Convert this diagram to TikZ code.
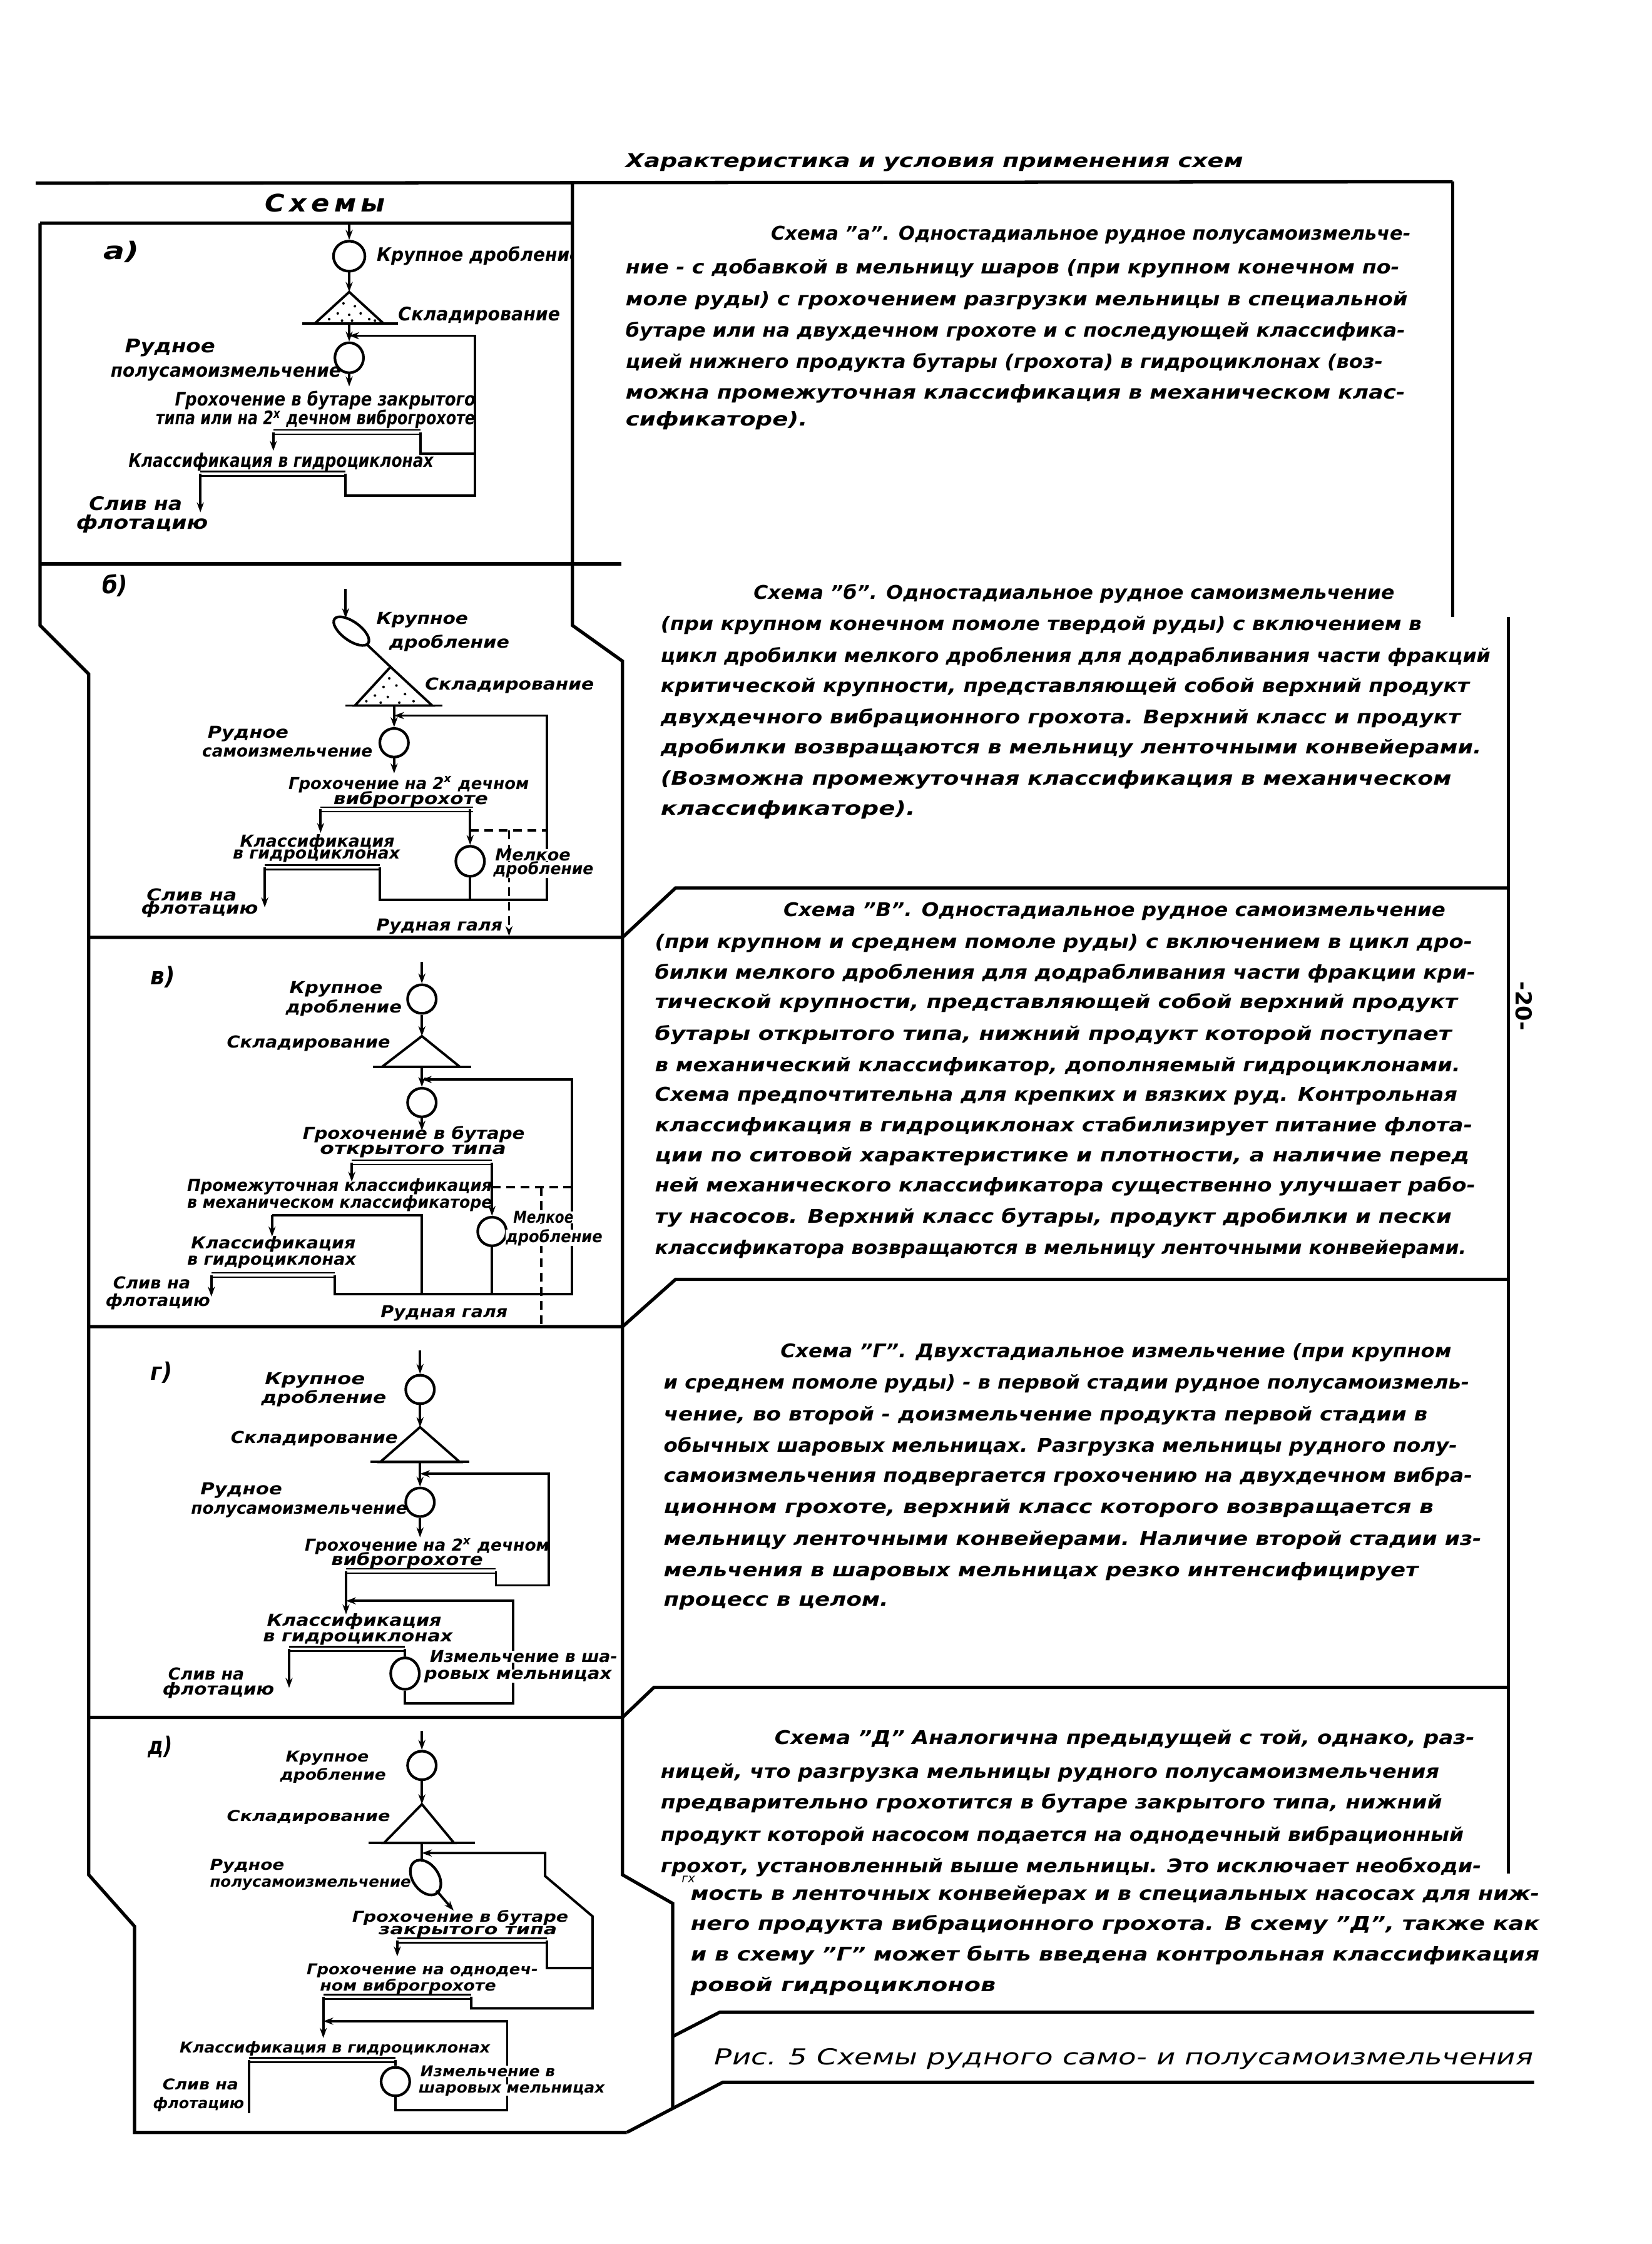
\documentclass[tikz,border=0pt]{standalone}
\usepackage{fontspec}
\setmainfont{DejaVu Sans}[ItalicFont={DejaVu Sans Oblique},BoldFont={DejaVu Sans Bold},BoldItalicFont={DejaVu Sans Bold Oblique}]
\usetikzlibrary{arrows.meta,shapes.geometric}
\newlength\ovu
\setlength\ovu{0.022868cm}
\newcommand\mkfl[2]{\resizebox{#1\ovu}{\height}{#2}}
\tikzset{
  lbl/.style={anchor=west,inner sep=0pt,font=\fontsize{7.5}{8}\selectfont\bfseries\itshape},
  lbla/.style={anchor=west,inner sep=0pt,font=\fontsize{8.5}{9}\selectfont\bfseries\itshape},
  lbls/.style={anchor=west,inner sep=0pt,font=\fontsize{6.8}{7}\selectfont\bfseries\itshape},
  regl/.style={anchor=west,inner sep=0pt,font=\fontsize{11}{12}\selectfont\bfseries\itshape},
  para/.style={anchor=west,inner sep=0pt,font=\fontsize{8.6}{9}\selectfont\bfseries\itshape},
  capt/.style={anchor=west,inner sep=0pt,font=\fontsize{10}{11}\selectfont\itshape},
  ln/.style={line width=1.1pt},
  arr/.style={line width=1.1pt,-{Stealth[length=4.5pt,width=3.2pt]}},
  dashln/.style={line width=1.1pt,dash pattern=on 4pt off 2.5pt},
  bar/.style={line width=0.7pt,double,double distance=1.3pt},
  frame/.style={line width=1.5pt},
  mill/.style={draw,ellipse,line width=1.2pt,inner sep=0pt,minimum width=20\ovu,minimum height=21\ovu},
  wt/.style={fill=white},
}
\newcommand\mkpl[5]{\node[para] (#1) at (#2,#3) {\mkfl{#4}{#5}};}
\newcommand\mklb[6][lbl]{\node[#1] (#2) at (#3,#4) {\mkfl{#5}{#6}};}
\begin{document}
\begin{tikzpicture}[x=0.022868cm,y=-0.022868cm]
\useasboundingbox (0,0) rectangle (1154,1568);

% ---------------- frame ----------------
\draw[frame] (25,128) -- (1015,127);
\draw[frame] (28,156) -- (400,156);
\draw[frame] (28,156) -- (28,437) -- (62,471) -- (62,1310) -- (94,1346) -- (94,1490) -- (438,1490);
\draw[frame] (400,127) -- (400,437) -- (435,462) -- (435,1310) -- (470,1330) -- (470,1473);
\draw[frame] (1072,1455) -- (505,1455) -- (438,1490);
\draw[frame] (1072,1406) -- (503,1406) -- (470,1423);
\draw[frame] (28,394) -- (434,394);
\draw[frame] (62,655) -- (435,655) -- (472,620.5) -- (1054,620.5);
\draw[frame] (62,927) -- (435,927) -- (472,894) -- (1054,894);
\draw[frame] (62,1200) -- (435,1200) -- (457,1179) -- (1054,1179);
\draw[frame] (1015,127) -- (1015,431);
\draw[frame] (1054,431) -- (1054,1309);

\node[regl] (hsx) at (185,141.7) {\mkfl{84}{С\,х\,е\,м\,ы}};
\mkpl{hdr}{436.9}{113.6}{431.4}{Характеристика и условия применения схем}

% ---------------- a) ----------------
\node[regl] (alab) at (72,176) {\mkfl{25}{а)}};
\begin{scope}
\clip (28,156) rectangle (399,394);
\mklb[lbla]{at1}{263}{179}{143}{Крупное дробление}
\end{scope}
\node[mill,minimum width=22\ovu] (am1) at (244,179) {};
\draw[arr] (244,157) -- (am1.north);
\draw[arr] (am1.south) -- (244,204);
\draw[ln] (244,204) -- (220,226) -- (268,226) -- cycle;
\draw[ln] (211,226) -- (278,226);
\foreach \p in {(240,212),(248,214),(236,219),(244,220),(252,219),(230,223),(258,223),(246,224),(239,224),(262,224)} \fill \p circle (0.9);
\node[mill] (am2) at (244,250) {};
\draw[arr] (244,226) -- (am2.north);
\draw[arr] (am2.south) -- (244,270);
\draw[bar] (191,302) -- (294,302);
\draw[arr] (191,302) -- (191,315);
\draw[ln] (294,302) -- (294,317) -- (332,317);
\draw[bar] (140,331) -- (241.5,331);
\draw[arr] (140,331) -- (140,358);
\draw[arr] (241.5,331) -- (241.5,346.4) -- (332,346.4) -- (332,234.6) -- (244,234.6);
\mklb[lbla]{at2}{278}{220.4}{113}{Складирование}
\mklb[lbla]{at3}{87}{243}{63}{Рудное}
\mklb[lbla]{at4}{77}{261}{161}{полусамоизмельчение}
\mklb[lbla]{at5}{122}{280}{210}{Грохочение в бутаре закрытого}
\mklb[lbla]{at6}{108.6}{293}{223}{типа или на 2\textsuperscript{х} дечном виброгрохоте}
\mklb[lbla]{at7}{89.6}{323}{213}{Классификация в гидроциклонах}
\mklb[lbla]{at8}{62}{352}{65}{Слив на}
\mklb[lbla]{at9}{53}{366}{92}{флотацию}

% ---------------- б) ----------------
\node[regl] (blab) at (71,409) {\mkfl{18}{б)}};
\node[mill,minimum width=29\ovu,minimum height=13\ovu,rotate=-36] (bm1) at (245.5,441) {};
\draw[arr] (241.5,411.6) -- (241.5,432);
\draw[ln] (256,450) -- (272.9,466);
\draw[ln] (272.9,466) -- (248,493) -- (302,493) -- cycle;
\draw[ln] (241.5,493) -- (309,493);
\foreach \p in {(272,474),(268,480),(277,479),(262,486),(271,487),(283,485),(256,490),(266,491),(289,490),(279,491)} \fill \p circle (0.9);
\node[mill,minimum height=20\ovu] (bm2) at (275.4,519) {};
\draw[arr] (275.4,493) -- (bm2.north);
\draw[arr] (bm2.south) -- (275.4,540.4);
\draw[bar] (224,565.5) -- (330.6,565.5);
\draw[arr] (224,565.5) -- (224,582);
\node[mill] (bm3) at (328.5,601.8) {};
\draw[arr] (328.5,565.5) -- (bm3.north);
\draw[dashln] (328.5,580.2) -- (382,580.2);
\draw[dashln,-{Stealth[length=4.5pt,width=3.2pt]}] (355.7,580.2) -- (355.7,654);
\draw[ln] (bm3.south) -- (328.5,628.6);
\draw[bar] (185,606) -- (265.3,606);
\draw[arr] (185,606) -- (185,634);
\draw[arr] (265.3,606) -- (265.3,628.6) -- (382,628.6) -- (382,500) -- (275.4,500);
\mklb{bt1}{262.8}{433.2}{64}{Крупное}
\mklb{bt2}{271.6}{449.6}{84}{дробление}
\mklb{bt3}{296.7}{479}{118}{Складирование}
\mklb{bt4}{144.8}{512.7}{56.5}{Рудное}
\mklb{bt5}{141}{525.7}{119}{самоизмельчение}
\mklb{bt6}{201.3}{548.2}{168}{Грохочение на 2\textsuperscript{х} дечном}
\mklb{bt7}{232.7}{558.6}{108}{виброгрохоте}
\mklb[lbl,wt]{bt8}{345.7}{597.5}{52.7}{Мелкое}
\mklb[lbl,wt]{bt9}{344.4}{607.9}{70}{дробление}
\mklb{bt10}{167.4}{588.8}{108}{Классификация}
\mklb{bt11}{162.4}{598.3}{116.7}{в гидроциклонах}
\mklb{bt12}{102.2}{625.1}{63}{Слив на}
\mklb{bt13}{98.4}{635.5}{81.6}{флотацию}
\mklb{bt14}{262.8}{647.6}{88}{Рудная галя}

% ---------------- в) ----------------
\node[regl] (vlab) at (105,682.9) {\mkfl{17}{в)}};
\node[mill,minimum height=20\ovu] (vm1) at (294.8,698.1) {};
\draw[arr] (294.8,672.2) -- (vm1.north);
\draw[arr] (vm1.south) -- (294.8,724);
\draw[ln] (294.8,724) -- (267,745.4) -- (321.3,745.4) -- cycle;
\draw[ln] (260.4,745.4) -- (329.3,745.4);
\node[mill,minimum height=20\ovu] (vm2) at (294.8,770.4) {};
\draw[arr] (294.8,745.4) -- (vm2.north);
\draw[arr] (vm2.south) -- (294.8,790);
\draw[bar] (245.8,812.3) -- (343.8,812.3);
\draw[arr] (245.8,812.3) -- (245.8,825.7);
\node[mill,minimum height=20\ovu] (vm3) at (343.8,860.5) {};
\draw[arr] (343.8,812.3) -- (vm3.north);
\draw[dashln] (343.8,829.3) -- (399.5,829.3);
\draw[dashln] (378.3,829.3) -- (378.3,927);
\draw[ln] (190.1,849) -- (294.8,849) -- (294.8,904.2);
\draw[arr] (190.1,849) -- (190.1,864);
\draw[ln] (vm3.south) -- (343.8,904.2);
\draw[bar] (147.7,890.9) -- (233.9,890.9);
\draw[arr] (147.7,890.9) -- (147.7,906);
\draw[arr] (233.9,890.9) -- (233.9,904.2) -- (399.5,904.2) -- (399.5,754.3) -- (294.8,754.3);
\mklb{vt1}{202}{691}{65}{Крупное}
\mklb{vt2}{199.4}{704.3}{81}{дробление}
\mklb{vt3}{158.3}{729.3}{114}{Складирование}
\mklb{vt4}{211.3}{792.7}{155}{Грохочение в бутаре}
\mklb{vt5}{223.3}{804.3}{130}{открытого типа}
\mklb{vt6}{130.5}{829.3}{213}{Промежуточная классификация}
\mklb{vt7}{130.5}{840.9}{213}{в механическом классификаторе}
\mklb[lbl,wt]{vt8}{358.4}{850.7}{42}{Мелкое}
\mklb[lbl,wt]{vt9}{353.1}{865}{67.6}{дробление}
\mklb{vt10}{133.2}{869.4}{115}{Классификация}
\mklb{vt11}{130.5}{881.9}{118}{в гидроциклонах}
\mklb{vt12}{78.8}{896.2}{54}{Слив на}
\mklb{vt13}{73.5}{909.6}{73}{флотацию}
\mklb{vt14}{265.7}{917.6}{88.7}{Рудная галя}

% ---------------- г) ----------------
\node[regl] (glab) at (105,959) {\mkfl{15}{г)}};
\node[mill,minimum height=20\ovu] (gm1) at (293.5,970.9) {};
\draw[arr] (293.5,943.7) -- (gm1.north);
\draw[arr] (gm1.south) -- (293.5,997.2);
\draw[ln] (293.5,997.2) -- (265.7,1021.6) -- (321.3,1021.6) -- cycle;
\draw[ln] (259,1021.6) -- (328,1021.6);
\node[mill,minimum height=20\ovu] (gm2) at (293.5,1049.7) {};
\draw[arr] (293.5,1021.6) -- (gm2.north);
\draw[arr] (gm2.south) -- (293.5,1074.2);
\draw[bar] (241.8,1097.8) -- (346.5,1097.8);
\draw[arr] (346.5,1097.8) -- (346.5,1107.8) -- (383.6,1107.8) -- (383.6,1029.8) -- (293.5,1029.8);
\draw[arr] (241.8,1097.8) -- (241.8,1128);
\draw[bar] (202,1152.2) -- (282.9,1152.2);
\draw[arr] (202,1152.2) -- (202,1179.4);
\node[mill,minimum height=22\ovu] (gm3) at (283,1169.4) {};
\draw[ln] (283,1152.2) -- (gm3.north);
\draw[arr] (gm3.south) -- (283,1190.3) -- (358.4,1190.3) -- (358.4,1118.6) -- (241.8,1118.6);
\mklb{gt1}{184.8}{964.5}{70}{Крупное}
\mklb{gt2}{182.2}{977.2}{87.4}{дробление}
\mklb{gt3}{161}{1005.3}{116.6}{Складирование}
\mklb{gt4}{139.8}{1041.6}{57}{Рудное}
\mklb{gt5}{133.2}{1056.1}{151}{полусамоизмельчение}
\mklb{gt6}{212.7}{1080.6}{171}{Грохочение на 2\textsuperscript{х} дечном}
\mklb{gt7}{231.2}{1090.5}{106}{виброгрохоте}
\mklb{gt8}{186.2}{1133.1}{122}{Классификация}
\mklb{gt9}{183.5}{1144.9}{132.5}{в гидроциклонах}
\mklb{gt10}{117.3}{1169.4}{53}{Слив на}
\mklb{gt11}{113.3}{1181.2}{78}{флотацию}
\mklb[lbl,wt]{gt12}{300.1}{1157.6}{131}{Измельчение в ша-}
\mklb[lbl,wt]{gt13}{296.1}{1171.2}{131}{ровых мельницах}

% ---------------- д) ----------------
\node[regl] (dlab) at (103,1220.5) {\mkfl{17}{д)}};
\node[mill,minimum height=20\ovu] (dm1) at (294.8,1233.6) {};
\draw[arr] (294.8,1209.5) -- (dm1.north);
\draw[arr] (dm1.south) -- (294.8,1260.7);
\draw[ln] (294.8,1260.7) -- (268.3,1287.8) -- (317.3,1287.8) -- cycle;
\draw[ln] (257.7,1287.8) -- (331.9,1287.8);
\node[mill,minimum width=27\ovu,minimum height=18\ovu,rotate=-55] (dm2) at (297.4,1311.9) {};
\draw[ln] (294.8,1287.8) -- (294.8,1300);
\draw[arr] (305,1321) -- (317,1335);
\draw[bar] (277.6,1356) -- (382.3,1356);
\draw[arr] (277.6,1356) -- (277.6,1367);
\draw[ln] (382.3,1356) -- (382.3,1375) -- (414,1375);
\draw[bar] (225.9,1395.2) -- (329.3,1395.2);
\draw[arr] (329.3,1395.2) -- (329.3,1403.3) -- (414,1403.3) -- (414,1339) -- (380.9,1310.9) -- (380.9,1294.8) -- (294.8,1294.8);
\draw[arr] (225.9,1395.2) -- (225.9,1424);
\draw[bar] (174.2,1439.4) -- (276.3,1439.4);
\draw[ln] (174.2,1439.4) -- (174.2,1476.5);
\node[mill,minimum height=20\ovu] (dm3) at (276.3,1454.5) {};
\draw[ln] (276.3,1439.4) -- (dm3.north);
\draw[arr] (dm3.south) -- (276.3,1474.5) -- (354.4,1474.5) -- (354.4,1412.3) -- (225.9,1412.3);
\mklb[lbls]{dt1}{199.4}{1228.6}{58}{Крупное}
\mklb[lbls]{dt2}{195.4}{1240.6}{74}{дробление}
\mklb[lbls]{dt3}{158.3}{1269.7}{114}{Складирование}
\mklb[lbls]{dt4}{146.4}{1303.9}{52}{Рудное}
\mklb[lbls]{dt5}{146.4}{1316.9}{140.5}{полусамоизмельчение}
\mklb[lbls]{dt6}{245.8}{1340}{151}{Грохочение в бутаре}
\mklb[lbls]{dt7}{264.3}{1350}{124.6}{закрытого типа}
\mklb[lbls]{dt8}{214}{1377.1}{161.6}{Грохочение на однодеч-}
\mklb[lbls]{dt9}{223.3}{1388.2}{123}{ном виброгрохоте}
\mklb[lbls]{dt10}{125.2}{1431.4}{217}{Классификация в гидроциклонах}
\mklb[lbls]{dt11}{113.3}{1456.5}{53}{Слив на}
\mklb[lbls]{dt12}{106.7}{1470.5}{63.6}{флотацию}
\mklb[lbls,wt]{dt13}{293.5}{1447.4}{94}{Измельчение в}
\mklb[lbls,wt]{dt14}{292.2}{1460.5}{130}{шаровых мельницах}

% ---------------- texts ----------------
\mkpl{pa1}{538.4}{164.3}{447}{Схема "а". Одностадиальное рудное полусамоизмельче-}
\mkpl{pa2}{436.9}{187.5}{540.7}{ние - с добавкой в мельницу шаров (при крупном конечном по-}
\mkpl{pa3}{436.9}{210}{546.5}{моле руды) с грохочением разгрузки мельницы в специальной}
\mkpl{pa4}{436.9}{231.7}{544.6}{бутаре или на двухдечном грохоте и с последующей классифика-}
\mkpl{pa5}{436.9}{253.5}{529}{цией нижнего продукта бутары (грохота) в гидроциклонах (воз-}
\mkpl{pa6}{436.9}{275.2}{544.6}{можна промежуточная классификация в механическом клас-}
\mkpl{pa7}{436.9}{294}{127}{сификаторе).}

\mkpl{pb1}{526.3}{415}{447.8}{Схема "б". Одностадиальное рудное самоизмельчение}
\mkpl{pb2}{461.4}{437}{531.6}{(при крупном конечном помоле твердой руды) с включением в}
\mkpl{pb3}{461.4}{459}{579.7}{цикл дробилки мелкого дробления для додрабливания части фракций}
\mkpl{pb4}{461.4}{480}{565}{критической крупности, представляющей собой верхний продукт}
\mkpl{pb5}{461.4}{502}{558.8}{двухдечного вибрационного грохота. Верхний класс и продукт}
\mkpl{pb6}{461.4}{523}{573.4}{дробилки возвращаются в мельницу ленточными конвейерами.}
\mkpl{pb7}{461.4}{545}{552.5}{(Возможна промежуточная классификация в механическом}
\mkpl{pb8}{461.4}{566}{177.9}{классификаторе).}

\mkpl{pv1}{547.2}{637}{462.5}{Схема "В". Одностадиальное рудное самоизмельчение}
\mkpl{pv2}{457.3}{659}{571.2}{(при крупном и среднем помоле руды) с включением в цикл дро-}
\mkpl{pv3}{457.3}{680}{573.3}{билки мелкого дробления для додрабливания части фракции кри-}
\mkpl{pv4}{457.3}{701}{560.7}{тической крупности, представляющей собой верхний продукт}
\mkpl{pv5}{457.3}{723}{556.6}{бутары открытого типа, нижний продукт которой поступает}
\mkpl{pv6}{457.3}{745}{562.8}{в механический классификатор, дополняемый гидроциклонами.}
\mkpl{pv7}{457.3}{766}{560.7}{Схема предпочтительна для крепких и вязких руд. Контрольная}
\mkpl{pv8}{457.3}{787}{571.2}{классификация в гидроциклонах стабилизирует питание флота-}
\mkpl{pv9}{457.3}{808}{569.1}{ции по ситовой характеристике и плотности, а наличие перед}
\mkpl{pv10}{457.3}{829}{573.3}{ней механического классификатора существенно улучшает рабо-}
\mkpl{pv11}{457.3}{851}{556.6}{ту насосов. Верхний класс бутары, продукт дробилки и пески}
\mkpl{pv12}{457.3}{873}{567}{классификатора возвращаются в мельницу ленточными конвейерами.}

\mkpl{pg1}{545.1}{945}{468.8}{Схема "Г". Двухстадиальное измельчение (при крупном}
\mkpl{pg2}{463.5}{967}{562.9}{и среднем помоле руды) - в первой стадии рудное полусамоизмель-}
\mkpl{pg3}{463.5}{989}{533.6}{чение, во второй - доизмельчение продукта первой стадии в}
\mkpl{pg4}{463.5}{1011}{554.5}{обычных шаровых мельницах. Разгрузка мельницы рудного полу-}
\mkpl{pg5}{463.5}{1032}{565}{самоизмельчения подвергается грохочению на двухдечном вибра-}
\mkpl{pg6}{463.5}{1054}{537.8}{ционном грохоте, верхний класс которого возвращается в}
\mkpl{pg7}{463.5}{1076}{571.3}{мельницу ленточными конвейерами. Наличие второй стадии из-}
\mkpl{pg8}{463.5}{1098}{527.3}{мельчения в шаровых мельницах резко интенсифицирует}
\mkpl{pg9}{463.5}{1120}{157}{процесс в целом.}

\mkpl{pd1}{541}{1215}{489}{Схема "Д" Аналогична предыдущей с той, однако, раз-}
\mkpl{pd2}{461.4}{1239}{544}{ницей, что разгрузка мельницы рудного полусамоизмельчения}
\mkpl{pd3}{461.4}{1260}{546}{предварительно грохотится в бутаре закрытого типа, нижний}
\mkpl{pd4}{461.4}{1283}{561}{продукт которой насосом подается на однодечный вибрационный}
\mkpl{pd5}{461.4}{1304.5}{573.4}{грохот, установленный выше мельницы. Это исключает необходи-}
\node[para,font=\fontsize{5.5}{6}\selectfont\itshape] (pdx) at (476,1313) {гх};
\mkpl{pd6}{482.4}{1324}{593}{мость в ленточных конвейерах и в специальных насосах для ниж-}
\mkpl{pd7}{482.4}{1345}{593}{него продукта вибрационного грохота. В схему "Д", также как}
\mkpl{pd8}{482.4}{1366.5}{593}{и в схему "Г" может быть введена контрольная классификация}
\mkpl{pd9}{482.4}{1388}{213}{ровой гидроциклонов}

\node[capt] (cap) at (499,1438.7) {\mkfl{572}{Рис. 5 Схемы рудного само- и полусамоизмельчения}};
\node[font=\fontsize{10}{11}\selectfont\bfseries,rotate=-90,inner sep=0pt] (pg) at (1065,703) {-20-};
\end{tikzpicture}
\end{document}
